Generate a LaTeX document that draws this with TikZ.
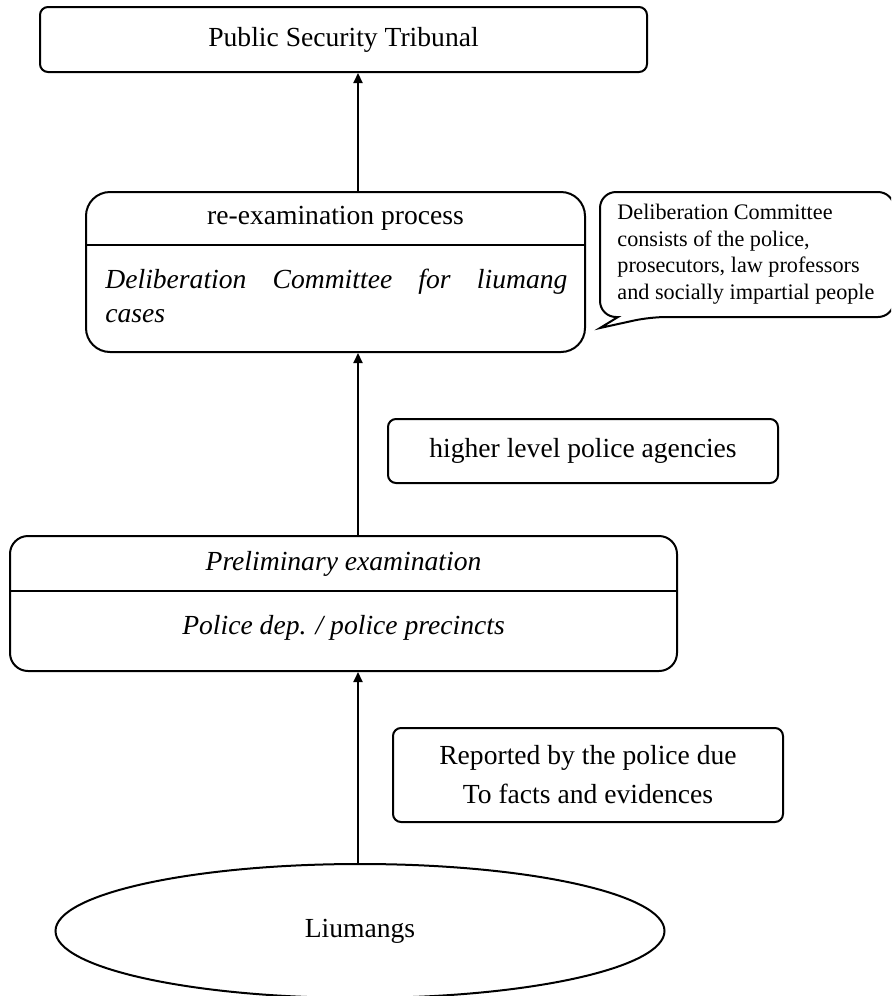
\documentclass[tikz,border=0pt]{standalone}
\usepackage{fontspec}
\setmainfont{Liberation Serif}
\usetikzlibrary{shapes.geometric, arrows.meta}
\tikzset{
    % Boxes with small rounded corners
    flow box/.style={
        rectangle,
        rounded corners=4pt,
        draw=black,
        line width=1pt,
        inner sep=0pt,
        align=center,
        font=\fontsize{13.8}{19.5}\selectfont
    },
    stage box/.style={
        flow box,
        rounded corners=12pt
    },
    box text/.style={
        inner sep=0pt,
        font=\fontsize{13.8}{17}\selectfont
    },
    box italic/.style={
        box text,
        font=\fontsize{13.8}{17}\selectfont\itshape
    },
    note text/.style={
        inner sep=0pt,
        align=left,
        font=\fontsize{11.1}{13.25}\selectfont
    },
    divider/.style={
        line width=1pt
    },
    arrow style/.style={
        -{Triangle[length=5pt,width=4.5pt]},
        line width=1.1pt,
        black
    }
}

\begin{document}
\begin{tikzpicture}[x=0.5pt, y=-0.5pt]
    \useasboundingbox (0,0) rectangle (891,996);
    \clip (0,0) rectangle (891,996);

    % Tribunal
    \node[flow box, minimum width=303.5pt, minimum height=32.5pt] (tribunal) at (343.5,39.5) {Public Security Tribunal};

    % Re-examination
    \node[stage box, minimum width=249.5pt, minimum height=80pt] (reexam) at (335.5,272) {};
    \node[box text] (retitle) at (335.5,218.5) {re-examination process};
    \draw[divider] (reexam.west |- 0,245) -- (reexam.east |- 0,245);
    \node[box italic, text width=231pt, align=justify, anchor=north west] (rebody) at (105,269) {Deliberation Committee for liumang\linebreak cases};

    % Callout
    \node[note text, anchor=north west] (note) at (617,204) {Deliberation Committee\\consists of the police,\\prosecutors, law professors\\and socially impartial people};
    \draw[line width=1pt, rounded corners=8pt] (618,317) -- (600,317) -- (600,192) -- (894,192) -- (894,317) -- (650,317) [sharp corners] -- (600,328) -- cycle;

    % Higher agencies
    \node[flow box, minimum width=195pt, minimum height=32pt] (higher) at (583,451) {higher level police agencies};

    % Preliminary examination
    \node[flow box, rounded corners=9pt, minimum width=333.5pt, minimum height=67.5pt] (prelim) at (343.5,603.5) {};
    \node[box italic] (pretitle) at (343.5,563.5) {Preliminary examination};
    \draw[divider] (prelim.west |- 0,591) -- (prelim.east |- 0,591);
    \node[box italic] (prebody) at (343.5,628) {Police dep. / police precincts};

    % Reported
    \node[flow box, minimum width=195pt, minimum height=47pt] (reported) at (588,775) {Reported by the police due\\To facts and evidences};

    % Liumangs
    \node[ellipse, draw=black, line width=1pt, minimum width=304.5pt, minimum height=67pt, font=\fontsize{13.8}{17}\selectfont] (liumangs) at (360,931) {Liumangs};

    % Arrows
    \coordinate (axis) at (358,0);
    \draw[arrow style] (axis |- liumangs.north) -- (axis |- prelim.south);
    \draw[arrow style] (axis |- prelim.north) -- (axis |- reexam.south);
    \draw[arrow style] (axis |- reexam.north) -- (axis |- tribunal.south);
\end{tikzpicture}
\end{document}
